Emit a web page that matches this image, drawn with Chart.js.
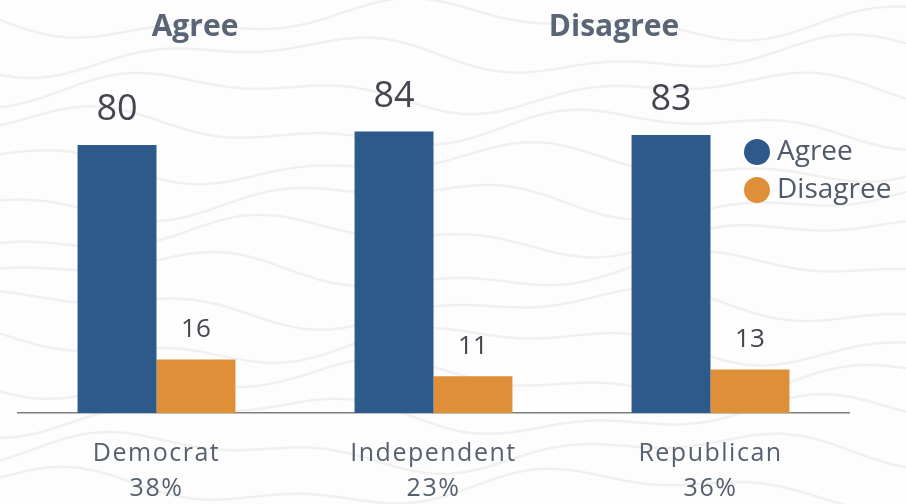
<!DOCTYPE html>
<html lang="en">
<head>
<meta charset="utf-8">
<title>Agree / Disagree by party</title>
<script src="https://cdn.jsdelivr.net/npm/chart.js@4.4.0/dist/chart.umd.min.js"></script>
<style>
  html, body { margin: 0; padding: 0; background: #fff; }
  #partyChart { display: block; }
</style>
</head>
<body>
<canvas id="partyChart" width="906" height="504"></canvas>

<script type="text/javascript">

    const parties = ["Democrat", "Independent", "Republican"];
    const partyShares = ["38%", "23%", "36%"];
    const agreeValues = [80, 84, 83];
    const disagreeValues = [16, 11, 13];
    const headings = ["Agree", "Disagree"];

    const blue = "#2d5a8b";
    const orange = "#de9038";
    const textGrey = "#566170";

    // faint contour lines behind everything
    const backgroundPlugin = {
        id: "topoBackground",
        beforeDraw(chart) {
            const ctx = chart.ctx;
            ctx.save();
            ctx.fillStyle = "#fdfdfd";
            ctx.fillRect(0, 0, chart.width, chart.height);
            ctx.strokeStyle = "rgba(0,0,0,0.05)";
            ctx.lineWidth = 2.5;
            for (let k = 0; k < 14; k++) {
                const y0 = 20 + k * 36;
                ctx.beginPath();
                for (let x = 0; x <= chart.width; x += 6) {
                    const y = y0 + 14 * Math.sin(x / 90 + k * 1.3) + 8 * Math.sin(x / 37 + k * 0.7);
                    if (x === 0) ctx.moveTo(x, y); else ctx.lineTo(x, y);
                }
                ctx.stroke();
            }
            ctx.restore();
            // wider tracking for the category labels drawn next
            ctx.letterSpacing = "1.5px";
        }
    };

    // headings, value labels and the round-marker legend
    const annotationsPlugin = {
        id: "annotations",
        afterDatasetsDraw(chart) {
            const ctx = chart.ctx;
            ctx.save();
            ctx.letterSpacing = "0px";

            ctx.fillStyle = "#5a6575";
            ctx.font = "bold 30px 'Open Sans'";
            ctx.textAlign = "center";
            ctx.textBaseline = "middle";
            ctx.fillText(headings[0], 195, 27);
            ctx.fillText(headings[1], 614, 27);

            chart.data.datasets.forEach((ds, i) => {
                const meta = chart.getDatasetMeta(i);
                meta.data.forEach((bar, j) => {
                    const big = i === 0;
                    ctx.fillStyle = "#45454f";
                    ctx.font = (big ? "36px" : "26px") + " 'Open Sans'";
                    ctx.textAlign = "center";
                    ctx.textBaseline = "alphabetic";
                    ctx.fillText(String(ds.data[j]), bar.x, bar.y - (big ? 25 : 22));
                });
            });

            chart.data.datasets.forEach((ds, i) => {
                const cy = 152 + i * 38;
                ctx.fillStyle = ds.backgroundColor;
                ctx.beginPath();
                ctx.arc(757, cy, 13, 0, Math.PI * 2);
                ctx.fill();
                ctx.fillStyle = "#505a68";
                ctx.font = "28px 'Open Sans'";
                ctx.textAlign = "left";
                ctx.textBaseline = "middle";
                ctx.fillText(ds.label, 777, cy);
            });

            ctx.restore();
        }
    };

    new Chart("partyChart", {
        type: "bar",
        data: {
            labels: parties.map((p, i) => [p, partyShares[i]]),
            datasets: [
                {
                    label: "Agree",
                    data: agreeValues,
                    backgroundColor: blue,
                    barPercentage: 1,
                    categoryPercentage: 0.57
                },
                {
                    label: "Disagree",
                    data: disagreeValues,
                    backgroundColor: orange,
                    barPercentage: 1,
                    categoryPercentage: 0.57
                }
            ]
        },
        options: {
            responsive: false,
            animation: false,
            layout: {padding: {left: 18, right: 57, top: 78, bottom: 0}},
            plugins: {
                legend: {display: false},
                tooltip: {enabled: false}
            },
            scales: {
                x: {
                    grid: {display: false, drawTicks: false},
                    border: {display: true, color: "#7f7f7f", width: 1.5},
                    ticks: {
                        color: textGrey,
                        font: {family: "'Open Sans'", size: 25, lineHeight: 1.4},
                        padding: 23
                    },
                    afterFit: scale => { scale.height = 91; }
                },
                y: {
                    display: false,
                    min: 0,
                    max: 100
                }
            }
        },
        plugins: [backgroundPlugin, annotationsPlugin]
    });

</script>
</body>
</html>
